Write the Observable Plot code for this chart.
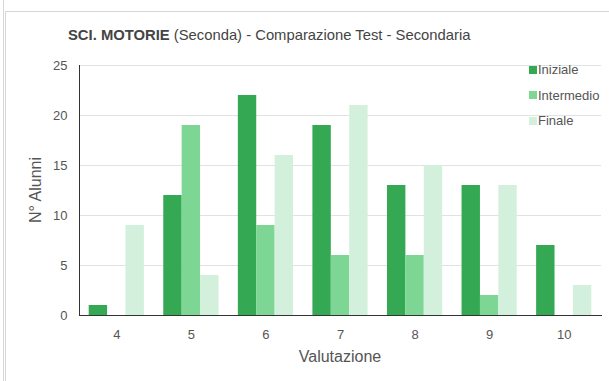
<!DOCTYPE html>
<html>
<head>
<meta charset="utf-8">
<script src="https://cdn.jsdelivr.net/npm/d3@7"></script>
<script src="https://cdn.jsdelivr.net/npm/@observablehq/plot@0.6"></script>
<style>
  body { margin: 0; background: #fff; font-family: Arial, "Liberation Sans", sans-serif; }
  #wrap { position: relative; width: 609px; height: 381px; overflow: hidden; background: #fff; }
  .outer { position: absolute; left: 3px; top: 0; width: 0; height: 381px; border-left: 1px solid #d6d6d6; }
  .panel { position: absolute; left: 5px; top: 11px; width: 604px; height: 370px; border-left: 1px solid #d6d6d6; border-top: 1px solid #d6d6d6; }
  .layer { position: absolute; left: 0; top: 0; }
  #title { position: absolute; left: 68px; top: 28px; font-size: 14.8px; line-height: 1; color: #444; white-space: nowrap; }
  #title b { font-weight: bold; }
  .axis-title { position: absolute; font-size: 16px; line-height: 1; color: #555; white-space: nowrap; }
  #ytitle { left: 36px; top: 190px; transform: translate(-50%, -50%) rotate(-90deg); }
  #xtitle { left: 340px; top: 349px; transform: translateX(-50%); }
  #legend { position: absolute; left: 529px; top: 57px; font-size: 13px; color: #555; }
  #legend .item { display: flex; align-items: center; height: 25.5px; line-height: 1; }
  #legend .sw { width: 8px; height: 8px; margin-right: 1px; }
</style>
</head>
<body>
<div id="wrap">
  <div class="outer"></div>
  <div class="panel"></div>
  <div class="layer" id="grid"></div>
  <div class="layer" id="bars"></div>
  <div class="layer" id="axes"></div>
  <div id="title"><b>SCI. MOTORIE</b> (Seconda) - Comparazione Test - Secondaria</div>
  <div class="axis-title" id="ytitle">N° Alunni</div>
  <div class="axis-title" id="xtitle">Valutazione</div>
  <div id="legend"></div>
</div>
<script>
// Grades on the x axis and the three test rounds
const grades = ["4", "5", "6", "7", "8", "9", "10"];
const series = ["Iniziale", "Intermedio", "Finale"];

// Number of pupils per grade, one array per test
const iniziale   = [1, 12, 22, 19, 13, 13, 7];
const intermedio = [0, 19, 9, 6, 6, 2, 0];
const finale     = [9, 4, 16, 21, 15, 13, 3];

const yTicks = [0, 5, 10, 15, 20, 25];
const colors = ["#34a853", "#7dd694", "#d3f0dc"];

const values = [iniziale, intermedio, finale];
const rows = grades.flatMap((g, i) =>
  series.map((s, k) => ({grade: g, serie: s, value: values[k][i]}))
);

// Shared frame geometry so the three layers line up exactly
const base = {
  width: 609,
  height: 381,
  marginLeft: 79,
  marginRight: 8,
  marginTop: 65,
  marginBottom: 66,
  style: {fontFamily: "Arial, 'Liberation Sans', sans-serif", fontSize: "13px", color: "#555", background: "transparent"}
};
const yDomain = [0, 25];
const band = {domain: grades, paddingInner: 0.26, paddingOuter: 0.13, round: false, label: null};

// Layer 1: horizontal gridlines across the whole plot area
const grid = Plot.plot({
  ...base,
  x: {...band, axis: null},
  y: {domain: yDomain, axis: null},
  marks: [
    Plot.ruleY(yTicks.filter(d => d > 0), {stroke: "#e2e2e2", strokeWidth: 1})
  ]
});

// Layer 2: grouped bars, one facet per grade
const bars = Plot.plot({
  ...base,
  fx: {...band, axis: null},
  x: {domain: series, padding: 0, round: false, axis: null},
  y: {domain: yDomain, axis: null},
  color: {domain: series, range: colors},
  marks: [
    Plot.barY(rows, {fx: "grade", x: "serie", y: "value", fill: "serie"})
  ]
});

// Layer 3: axes with tick labels and axis lines
const axes = Plot.plot({
  ...base,
  x: {...band},
  y: {domain: yDomain, label: null},
  marks: [
    Plot.axisY({ticks: yTicks, tickSize: 0, tickPadding: 12, label: null, fontSize: 13, fill: "#555"}),
    Plot.axisX({anchor: "bottom", tickSize: 0, tickPadding: 14, label: null, fontSize: 13, fill: "#555"}),
    Plot.frame({anchor: "left", stroke: "#333"}),
    Plot.frame({anchor: "bottom", stroke: "#333"})
  ]
});

document.getElementById("grid").append(grid);
document.getElementById("bars").append(bars);
document.getElementById("axes").append(axes);

// Legend
const legend = document.getElementById("legend");
series.forEach((s, k) => {
  const item = document.createElement("div");
  item.className = "item";
  const sw = document.createElement("span");
  sw.className = "sw";
  sw.style.background = colors[k];
  const label = document.createElement("span");
  label.textContent = s;
  item.append(sw, label);
  legend.append(item);
});
</script>
</body>
</html>
